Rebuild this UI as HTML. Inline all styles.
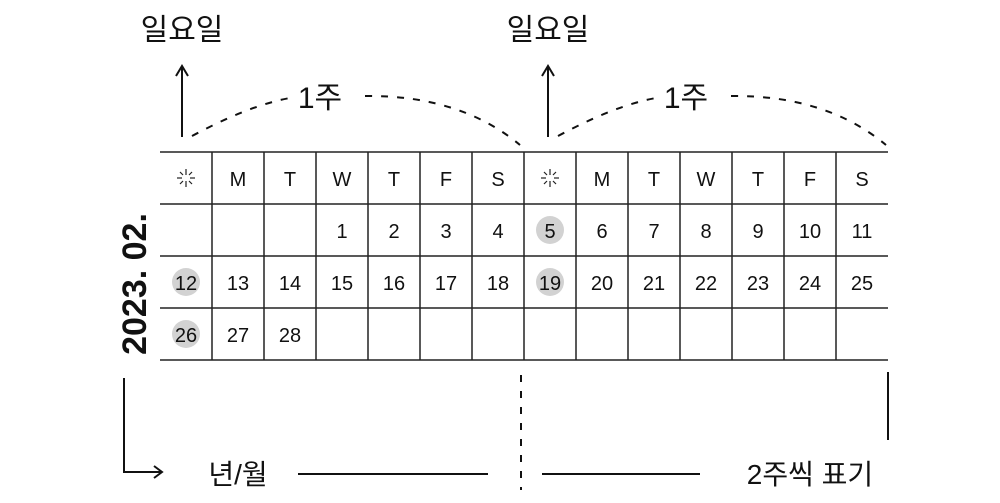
<!DOCTYPE html>
<html><head><meta charset="utf-8"><style>
html,body{margin:0;padding:0;background:#fff;}
svg{display:block;}
text{font-family:"Liberation Sans","Noto Sans CJK KR",sans-serif;fill:#111;}
</style></head><body>
<svg width="1000" height="503" viewBox="0 0 1000 503" xmlns="http://www.w3.org/2000/svg">
<g stroke="#222" stroke-width="1.5">
<line x1="160" y1="152" x2="888" y2="152"/>
<line x1="160" y1="204" x2="888" y2="204"/>
<line x1="160" y1="256" x2="888" y2="256"/>
<line x1="160" y1="308" x2="888" y2="308"/>
<line x1="160" y1="360" x2="888" y2="360"/>
<line x1="212" y1="152" x2="212" y2="360"/>
<line x1="264" y1="152" x2="264" y2="360"/>
<line x1="316" y1="152" x2="316" y2="360"/>
<line x1="368" y1="152" x2="368" y2="360"/>
<line x1="420" y1="152" x2="420" y2="360"/>
<line x1="472" y1="152" x2="472" y2="360"/>
<line x1="524" y1="152" x2="524" y2="360"/>
<line x1="576" y1="152" x2="576" y2="360"/>
<line x1="628" y1="152" x2="628" y2="360"/>
<line x1="680" y1="152" x2="680" y2="360"/>
<line x1="732" y1="152" x2="732" y2="360"/>
<line x1="784" y1="152" x2="784" y2="360"/>
<line x1="836" y1="152" x2="836" y2="360"/>
</g>
<g fill="#d2d2d2">
<circle cx="550" cy="230" r="14"/>
<circle cx="186" cy="282" r="14"/>
<circle cx="550" cy="282" r="14"/>
<circle cx="186" cy="334" r="14"/>
</g>
<g font-size="20" text-anchor="middle">
<text x="238" y="186">M</text><text x="290" y="186">T</text><text x="342" y="186">W</text><text x="394" y="186">T</text><text x="446" y="186">F</text><text x="498" y="186">S</text>
<text x="602" y="186">M</text><text x="654" y="186">T</text><text x="706" y="186">W</text><text x="758" y="186">T</text><text x="810" y="186">F</text><text x="862" y="186">S</text>
<text x="342" y="238">1</text><text x="394" y="238">2</text><text x="446" y="238">3</text><text x="498" y="238">4</text><text x="550" y="238">5</text><text x="602" y="238">6</text><text x="654" y="238">7</text><text x="706" y="238">8</text><text x="758" y="238">9</text><text x="810" y="238">10</text><text x="862" y="238">11</text>
<text x="186" y="290">12</text><text x="238" y="290">13</text><text x="290" y="290">14</text><text x="342" y="290">15</text><text x="394" y="290">16</text><text x="446" y="290">17</text><text x="498" y="290">18</text><text x="550" y="290">19</text><text x="602" y="290">20</text><text x="654" y="290">21</text><text x="706" y="290">22</text><text x="758" y="290">23</text><text x="810" y="290">24</text><text x="862" y="290">25</text>
<text x="186" y="342">26</text><text x="238" y="342">27</text><text x="290" y="342">28</text>
</g>
<g stroke="#222" stroke-width="1.2">
<g transform="translate(186,178)"><line x1="0" y1="-9" x2="0" y2="-3"/><line x1="0" y1="3" x2="0" y2="9"/><line x1="-9" y1="0" x2="-4" y2="0"/><line x1="4" y1="0" x2="9" y2="0"/><line x1="-6" y1="-6" x2="-3" y2="-3"/><line x1="3" y1="3" x2="6" y2="6"/><line x1="6" y1="-6" x2="3" y2="-3"/><line x1="-3" y1="3" x2="-6" y2="6"/></g>
<g transform="translate(550,178)"><line x1="0" y1="-9" x2="0" y2="-3"/><line x1="0" y1="3" x2="0" y2="9"/><line x1="-9" y1="0" x2="-4" y2="0"/><line x1="4" y1="0" x2="9" y2="0"/><line x1="-6" y1="-6" x2="-3" y2="-3"/><line x1="3" y1="3" x2="6" y2="6"/><line x1="6" y1="-6" x2="3" y2="-3"/><line x1="-3" y1="3" x2="-6" y2="6"/></g>
</g>
<text transform="translate(146,284) rotate(-90)" font-size="34" text-anchor="middle" font-weight="bold">2023. 02.</text>
<g stroke="#111" stroke-width="2" fill="none">
<line x1="182" y1="137" x2="182" y2="66"/><path d="M176 76 L182 66 L188 76"/>
<line x1="548" y1="137" x2="548" y2="66"/><path d="M542 76 L548 66 L554 76"/>
</g>
<g stroke="#111" stroke-width="2" fill="none" stroke-dasharray="7 9">
<path d="M192 136 Q250 105 290 98"/>
<path d="M365 96 Q460 95 520 145"/>
<path d="M558 136 Q616 105 656 98"/>
<path d="M731 96 Q826 95 886 145"/>
<path d="M521 375 L521 490"/>
</g>
<g font-size="30" text-anchor="middle">
<text x="182" y="40">일요일</text><text x="548" y="40">일요일</text>
<text x="320" y="108">1주</text><text x="686" y="108">1주</text>
<text x="238" y="484" font-size="28">년/월</text>
<text x="810" y="484" font-size="28">2주씩 표기</text>
</g>
<g stroke="#111" stroke-width="2" fill="none">
<path d="M124 378 L124 472 L162 472"/><path d="M154 466 L162 472 L154 478"/>
<line x1="298" y1="474" x2="488" y2="474"/>
<line x1="542" y1="474" x2="700" y2="474"/>
<line x1="888" y1="372" x2="888" y2="440"/>
</g>
</svg>
</body></html>
